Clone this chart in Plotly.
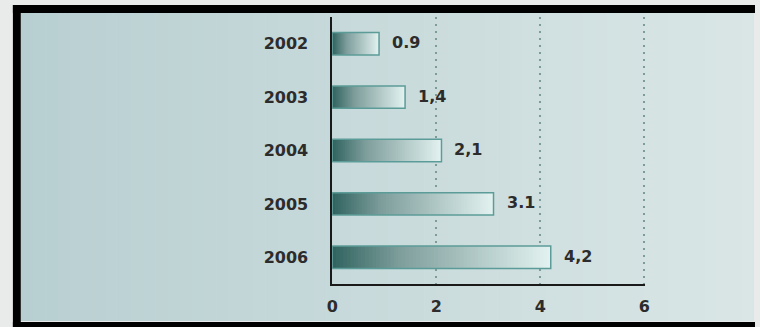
import plotly.graph_objects as go

# Data
years = ["2002", "2003", "2004", "2005", "2006"]
values = [0.9, 1.4, 2.1, 3.1, 4.2]
value_labels = ["0.9", "1,4", "2,1", "3.1", "4,2"]
x_ticks = [0, 2, 4, 6]

W, H = 760, 327


def px_x(p):
    return p / W


def px_y(p):
    # pixel row from top -> paper fraction from bottom
    return 1 - p / H


def lerp(c1, c2, t):
    return tuple(round(a + (b - a) * t) for a, b in zip(c1, c2))


def rgb(c):
    return "rgb(%d,%d,%d)" % c


fig = go.Figure()

# Horizontal gradient inside each bar: overlapping slices, each one
# running from its start to the bar end, lighter slices drawn on top
N_SEG = 60
dark = (50, 101, 97)
mid = (126, 158, 156)
light = (228, 243, 241)
for i in range(N_SEG):
    t = i / N_SEG
    if t < 0.3:
        col = lerp(dark, mid, t / 0.3)
    else:
        col = lerp(mid, light, (t - 0.3) / 0.7)
    fig.add_trace(go.Bar(
        y=years,
        x=[v * (1 - i / N_SEG) for v in values],
        base=[v * i / N_SEG for v in values],
        orientation="h",
        width=0.42,
        marker=dict(color=rgb(col), line=dict(width=0)),
        hoverinfo="skip",
        showlegend=False,
    ))

# Bar outlines
fig.add_trace(go.Bar(
    y=years,
    x=values,
    orientation="h",
    width=0.42,
    marker=dict(color="rgba(0,0,0,0)", line=dict(color="#5c9c98", width=1.5)),
    showlegend=False,
))

label_font = dict(family="DejaVu Sans", size=16, color="#2c2c2c", weight="bold")

# Value labels to the right of each bar (y given as category index)
for idx, (v, lab) in enumerate(zip(values, value_labels)):
    fig.add_annotation(
        x=v, y=idx, xref="x", yref="y", text=lab, showarrow=False,
        xanchor="left", yanchor="middle", xshift=11, yshift=1,
        font=label_font,
    )

# Background: light outer edge, black frame, soft left-to-right gradient
shapes = []
g_left, g_right = (184, 207, 209), (218, 230, 230)
n_strips = 60
x_start, x_end = 15, 759
for k in range(n_strips):
    a = x_start + (x_end - x_start) * k / n_strips
    b = x_start + (x_end - x_start) * (k + 1) / n_strips + 0.6
    col = lerp(g_left, g_right, (k + 0.5) / n_strips)
    shapes.append(dict(type="rect", xref="paper", yref="paper",
                       x0=px_x(a), x1=px_x(min(b, x_end)), y0=px_y(321), y1=px_y(13),
                       fillcolor=rgb(col), line=dict(width=0), layer="below"))
# frame bars: top, left, bottom
shapes.append(dict(type="rect", xref="paper", yref="paper", x0=px_x(7), x1=1,
                   y0=px_y(13), y1=px_y(5), fillcolor="#000", line=dict(width=0), layer="below"))
shapes.append(dict(type="rect", xref="paper", yref="paper", x0=px_x(7), x1=px_x(15),
                   y0=0, y1=px_y(5), fillcolor="#000", line=dict(width=0), layer="below"))
shapes.append(dict(type="rect", xref="paper", yref="paper", x0=px_x(7), x1=1,
                   y0=0, y1=px_y(322), fillcolor="#000", line=dict(width=0), layer="below"))

X_MAX = 6.02

fig.update_layout(
    width=W, height=H,
    margin=dict(l=0, r=0, t=0, b=0),
    paper_bgcolor="#e9eaea",
    plot_bgcolor="rgba(0,0,0,0)",
    barmode="overlay",
    shapes=shapes,
    showlegend=False,
    xaxis=dict(
        domain=[px_x(331), px_x(331 + 52.8 * X_MAX)],
        range=[0, X_MAX],
        tickvals=x_ticks,
        ticktext=[str(t) for t in x_ticks],
        showgrid=True,
        gridcolor="#7c9c9a",
        gridwidth=2,
        griddash="2px,5px",
        zeroline=False,
        showline=True,
        linecolor="#1a1a1a",
        linewidth=1.5,
        ticks="outside",
        ticklen=7,
        tickcolor="rgba(0,0,0,0)",
        tickfont=label_font,
        fixedrange=True,
    ),
    yaxis=dict(
        domain=[px_y(284), px_y(17)],
        type="category",
        categoryorder="array",
        categoryarray=years,
        range=[4.5, -0.5],
        showgrid=False,
        zeroline=False,
        showline=True,
        linecolor="#1a1a1a",
        linewidth=1.5,
        ticks="outside",
        ticklen=19,
        tickcolor="rgba(0,0,0,0)",
        tickfont=label_font,
        fixedrange=True,
    ),
)

fig.write_html("out.html")
